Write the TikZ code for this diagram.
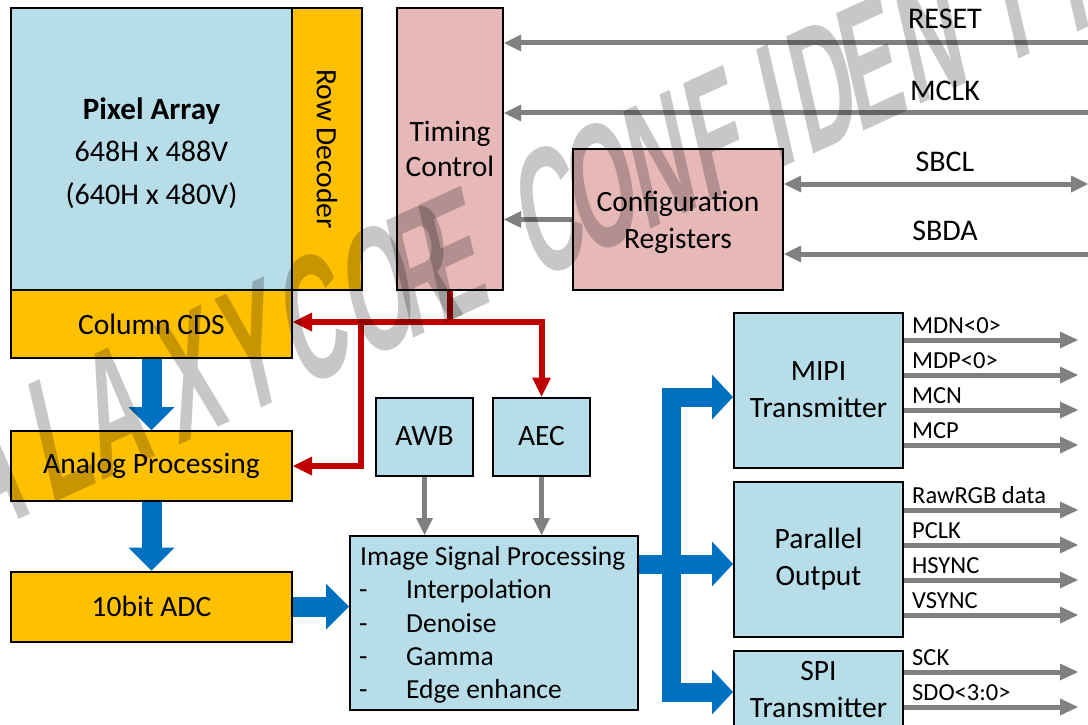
\documentclass[tikz,border=0pt]{standalone}
\usepackage{fontspec}
\setmainfont{Carlito}
\newfontfamily\wmfont{Liberation Sans}
\usetikzlibrary{arrows.meta}
\definecolor{pxblue}{HTML}{B7DDE8}
\definecolor{amber}{HTML}{FFC000}
\definecolor{rose}{HTML}{E6B9B8}
\definecolor{sig}{HTML}{808080}
\definecolor{ctl}{HTML}{C00000}
\definecolor{flow}{HTML}{0070C0}
\definecolor{wm}{gray}{0.78}
\begin{document}
\begin{tikzpicture}[x=1pt,y=-1pt,
 blk/.style={draw=black, line width=2pt, inner sep=0pt, align=center, font=\fontsize{29.5}{37}\selectfont},
 lblu/.style={blk, fill=pxblue}, amb/.style={blk, fill=amber}, pnk/.style={blk, fill=rose},
 sigarrow/.style={draw=sig, line width=5pt, -{Triangle[length=17pt,width=17pt,line width=0pt]}},
 sigboth/.style={draw=sig, line width=5pt, {Triangle[length=17pt,width=17pt,line width=0pt]}-{Triangle[length=17pt,width=17pt,line width=0pt]}},
 outarrow/.style={draw=sig, line width=5pt, -{Triangle[length=18pt,width=17pt,line width=0pt]}},
 ctlline/.style={draw=ctl, line width=6pt},
 ctlarrow/.style={ctlline, -{Triangle[length=19pt,width=19pt,line width=0pt]}},
 flowline/.style={draw=flow, line width=20pt},
 flowarrow/.style={flowline, -{Triangle[length=23pt,width=46pt,line width=0pt]}},
 busarrow/.style={draw=flow, line width=19pt, -{Triangle[length=21pt,width=45pt,line width=0pt]}},
 sigtxt/.style={font=\fontsize{30}{36}\selectfont, anchor=base, inner sep=0pt},
 outtxt/.style={font=\fontsize{24.5}{30}\selectfont, anchor=base west, inner sep=0pt},
 isptxt/.style={font=\fontsize{27.5}{33}\selectfont, anchor=base west, inner sep=0pt},
 wmtxt/.style={anchor=base west, inner sep=0pt, text=wm, font=\wmfont\bfseries\fontsize{140}{140}\selectfont,
      cm={0.563,0.259,-0.281,1.218,(0,0)}},
]
\useasboundingbox (0,0) rectangle (1088,725);
\fill[white] (0,0) rectangle (1088,725);
\clip (0,0) rectangle (1088,725);

% ---------- blocks ----------
\node[lblu, minimum width=281pt, minimum height=282pt] (pa) at (151.5,149) {};
\node[align=center, inner sep=0pt, font=\fontsize{30}{42.5}\selectfont] (pat) at (151.5,153)
  {{\bfseries\fontsize{31}{42.5}\selectfont Pixel Array}\\648H x 488V\\(640H x 480V)};
\node[amb, minimum width=282pt, minimum height=70pt, rotate=-90] (rd) at (327,149) {Row Decoder};
\node[amb, minimum width=281pt, minimum height=68pt] (cds) at (151.5,324) {Column CDS};
\node[pnk, minimum width=106pt, minimum height=282pt, font=\fontsize{29.5}{35.5}\selectfont] (tc) at (450,149) {Timing\\Control};
\node[pnk, minimum width=210pt, minimum height=141pt] (cr) at (678,219.5) {};
\node[align=center, inner sep=0pt, font=\fontsize{29.5}{37}\selectfont] (crt) at (678,222) {Configuration\\Registers};
\node[amb, minimum width=281pt, minimum height=70pt] (ap) at (151.5,466) {Analog Processing};
\node[amb, minimum width=281pt, minimum height=70pt] (adc) at (151.5,606.5) {10bit ADC};
\node[lblu, minimum width=97pt, minimum height=78pt] (awb) at (424.5,436.5) {AWB};
\node[lblu, minimum width=97pt, minimum height=78pt] (aec) at (541.5,436.5) {AEC};
\node[lblu, minimum width=288pt, minimum height=174pt] (isp) at (494,623) {};
\node[isptxt] (ispt) at (360,565) {Image Signal Processing};
\foreach \yy/\lab [count=\k] in {598/Interpolation, 632/Denoise, 665/Gamma, 698/Edge enhance} {
  \node[isptxt] (ispd\k) at (359,\yy) {-};
  \node[isptxt] (ispi\k) at (406,\yy) {\lab};
}
\node[lblu, minimum width=169pt, minimum height=155pt] (mipi) at (818.5,390) {MIPI\\Transmitter};
\node[lblu, minimum width=169pt, minimum height=155pt] (par) at (818.5,559.5) {Parallel\\Output};
\node[lblu, minimum width=169pt, minimum height=155pt] (spi) at (818.5,728.5) {};
\node[align=center, inner sep=0pt, font=\fontsize{29.5}{37}\selectfont] (spit) at (818.5,689.5) {SPI\\Transmitter};

% ---------- control inputs ----------
\coordinate (inRST) at (1088,43);
\coordinate (inMCLK) at (1088,113);
\coordinate (inSBCL) at (1088,184);
\coordinate (inSBDA) at (1088,254);
\draw[sigarrow] (inRST) -- (inRST -| tc.east);
\draw[sigarrow] (inMCLK) -- (inMCLK -| tc.east);
\draw[sigboth] (inSBCL -| cr.east) -- (inSBCL);
\draw[sigarrow] (inSBDA) -- (inSBDA -| cr.east);
\draw[sigarrow] (cr.west) -- (cr.west -| tc.east);
\node[sigtxt] (lRST) at (945,29) {RESET};
\node[sigtxt] (lMCLK) at (945,100) {MCLK};
\node[sigtxt] (lSBCL) at (945,171) {SBCL};
\node[sigtxt] (lSBDA) at (945,240) {SBDA};

% ---------- AWB / AEC ----------
\draw[sigarrow] (awb.south) -- (awb.south |- isp.north);
\draw[sigarrow] (aec.south) -- (aec.south |- isp.north);

% ---------- red timing lines ----------
\coordinate (rj) at (tc.south |- 0,322);
\coordinate (rl) at (361,322);
\draw[ctlline] (tc.south) -- (rj);
\draw[ctlarrow] (rj) -- (rj -| cds.east);
\draw[ctlarrow] (rj) -| (aec.north);
\draw[ctlarrow] (rl) |- (ap.east);

% ---------- blue data path ----------
\draw[flowarrow] (cds.south) -- (ap.north);
\draw[flowarrow] (ap.south) -- (adc.north);
\draw[flowarrow] (adc.east) -- (adc.east -| isp.west);
\coordinate (bt) at (671,397);
\coordinate (bm) at (671,564);
\coordinate (bb) at (671,692);
\draw[flowline, line width=19pt] (isp.east |- bm) -- (bm);
\draw[flowline, line width=19pt, line cap=rect] (bt) -- (bb);
\draw[busarrow] (bt) -- (bt -| mipi.west);
\draw[busarrow] (bm) -- (bm -| par.west);
\draw[busarrow] (bb) -- (bb -| spi.west);

% ---------- outputs ----------
\foreach \yy/\lab [count=\i] in {340/MDN<0>, 375/MDP<0>, 410/MCN, 445/MCP} {
  \coordinate (m\i) at (1078,\yy);
  \draw[outarrow] (m\i -| mipi.east) -- (m\i);
  \node[outtxt] (ml\i) at (912,\yy-6.5) {\lab};
}
\foreach \yy/\lab [count=\i] in {510/RawRGB data, 545/PCLK, 580/HSYNC, 615/VSYNC} {
  \coordinate (p\i) at (1078,\yy);
  \draw[outarrow] (p\i -| par.east) -- (p\i);
  \node[outtxt] (pl\i) at (912,\yy-6.5) {\lab};
}
\foreach \yy/\lab [count=\i] in {672/SCK, 707/SDO<3:0>} {
  \coordinate (s\i) at (1078,\yy);
  \draw[outarrow] (s\i -| spi.east) -- (s\i);
  \node[outtxt] (sl\i) at (912,\yy-6.5) {\lab};
}

% ---------- watermark ----------
\begin{scope}[blend mode=multiply]
\foreach \ch/\px [count=\i] in {G/-95, A/-25, L/50, A/100, X/178, Y/240, C/300, O/362, R/408, E/440,
    C/535, O/585, N/645, F/705, I/778, D/808, E/858, N/915, T/1000, I/1072, A/1105, L/1160} {
  \begin{scope}[shift={(\px,{330-(\px-430)*0.46})}]
    \node[wmtxt] (wm\i) at (0,0) {\ch};
  \end{scope}
}
\end{scope}
\end{tikzpicture}
\end{document}
